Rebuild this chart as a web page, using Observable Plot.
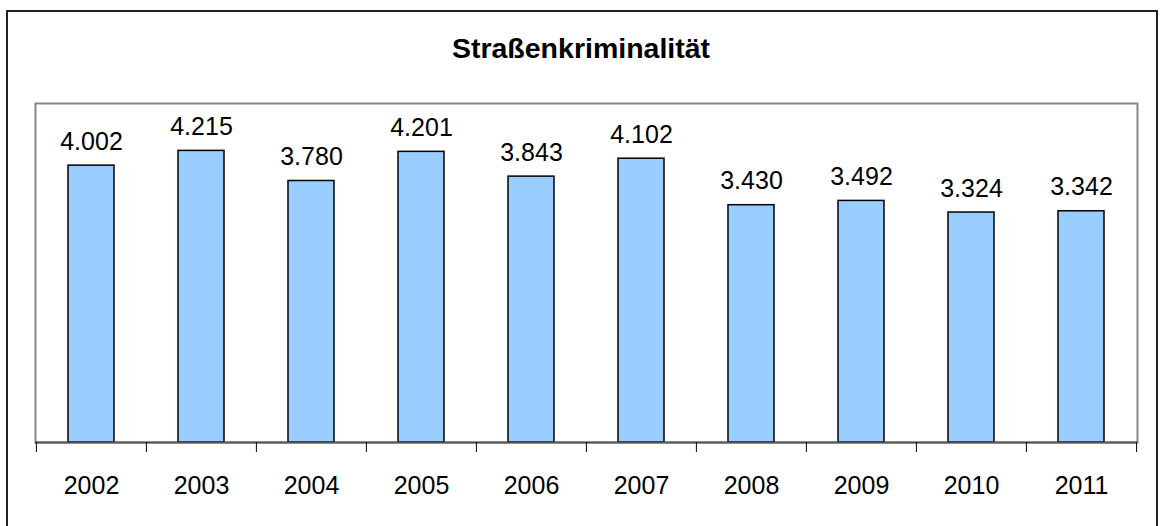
<!DOCTYPE html>
<html><head><meta charset="utf-8">
<script src="https://cdn.jsdelivr.net/npm/d3@7"></script>
<script src="https://cdn.jsdelivr.net/npm/@observablehq/plot@0.6"></script>
<style>
body{margin:0;background:#fff;font-family:"Liberation Sans",Arial,sans-serif;}
#wrap{position:relative;width:1162px;height:526px;overflow:hidden;background:#fff;}
#border{position:absolute;left:6px;top:10px;width:1152px;height:600px;border:2px solid #222;box-sizing:border-box;}
#title{position:absolute;left:0;top:34px;width:1162px;text-align:center;font-size:28.5px;font-weight:bold;line-height:28px;color:#000;}
#chart{position:absolute;left:0;top:90px;}
</style>
</head><body>
<div id="wrap">
  <div id="border"></div>
  <div id="title">Straßenkriminalität</div>
  <div id="chart"></div>
</div>
<script>
const years = ["2002","2003","2004","2005","2006","2007","2008","2009","2010","2011"];
const values = [4002,4215,3780,4201,3843,4102,3430,3492,3324,3342];
const valueLabels = ["4.002","4.215","3.780","4.201","3.843","4.102","3.430","3.492","3.324","3.342"];
const yMax = 4900;

const data = years.map((y,i)=>({year:y, value:values[i], label:valueLabels[i]}));
const W = 1162, H = 436, mL = 35, mR = 25, mT = 13, mB = 84;
const step = (W - mL - mR) / years.length;

const chart = Plot.plot({
  width: W, height: H,
  marginLeft: mL, marginRight: mR, marginTop: mT, marginBottom: mB,
  style: {fontFamily: '"Liberation Sans", Arial, sans-serif', fontSize: "25px", background: "transparent", overflow: "visible", color: "#000"},
  x: {domain: years, padding: 0, axis: null, label: null},
  y: {domain: [0, yMax], axis: null, label: null},
  marks: [
    Plot.frame({stroke: "#868686", strokeWidth: 2}),
    Plot.barY(data, {x: "year", y: "value", fill: "#99CCFF", stroke: "#000", strokeWidth: 1.5, insetLeft: 32, insetRight: 32}),
    Plot.ruleY([0], {stroke: "#555", strokeWidth: 2}),
    Plot.axisX({ticks: years, tickSize: 10, tickFormat: () => "", label: null, dx: -step/2, stroke: "#000", strokeOpacity: 1}),
    Plot.axisX({ticks: [years[years.length-1]], tickSize: 10, tickFormat: () => "", label: null, dx: step/2, stroke: "#000", strokeOpacity: 1}),
    Plot.axisX({ticks: years, tickSize: 0, tickPadding: 34, label: null, fontSize: 25, fill: "#000"}),
    Plot.text(data, {x: "year", y: "value", text: "label", dy: -16, lineAnchor: "bottom", fontSize: 25, fill: "#000"})
  ]
});
document.getElementById("chart").appendChild(chart);
</script>
</body></html>
